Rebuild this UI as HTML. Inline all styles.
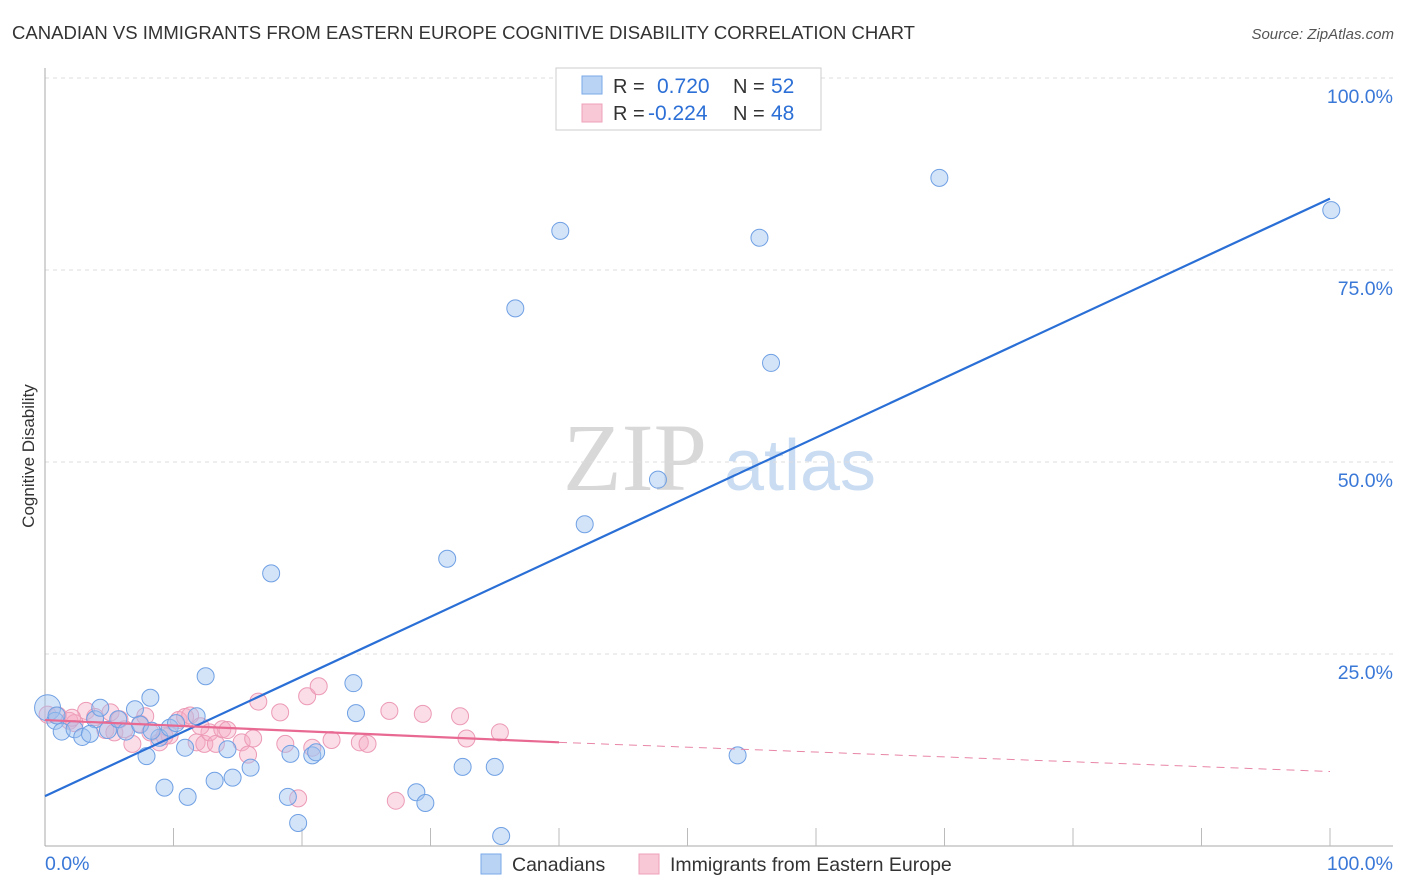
<!DOCTYPE html>
<html><head><meta charset="utf-8"><style>
body{margin:0;background:#fff;font-family:"Liberation Sans",sans-serif;}
svg{display:block}
</style></head><body>
<svg id="c" width="1406" height="892">
<text x="12" y="39" font-size="18" fill="#333" textLength="903" lengthAdjust="spacingAndGlyphs">CANADIAN VS IMMIGRANTS FROM EASTERN EUROPE COGNITIVE DISABILITY CORRELATION CHART</text>
<text x="1394" y="39" font-size="15" fill="#555" font-style="italic" text-anchor="end">Source: ZipAtlas.com</text>
<text x="34" y="456" font-size="17" fill="#333" text-anchor="middle" transform="rotate(-90 34 456)">Cognitive Disability</text>
<text x="635" y="490" font-size="96" fill="#d8d8d8" font-family="Liberation Serif" text-anchor="middle">ZIP</text>
<text x="800" y="490" font-size="72" fill="#c9dcf2" text-anchor="middle">atlas</text>
<g id="grid"></g><g id="pts"></g><g id="lines"></g>
<g>
<rect x="556" y="68" width="265" height="62" fill="#fff" stroke="#ccc"/>
<rect x="582" y="76" width="20" height="18" fill="#b9d3f5" stroke="#7aa8e8"/>
<rect x="582" y="104" width="20" height="18" fill="#f9c8d6" stroke="#eea0b8"/>
<text x="613" y="93" font-size="20" fill="#333">R =</text><text x="657" y="93" font-size="21" fill="#2c6fd6">0.720</text>
<text x="733" y="93" font-size="20" fill="#333">N =</text><text x="771" y="93" font-size="21" fill="#2c6fd6">52</text>
<text x="613" y="120" font-size="20" fill="#333">R =</text><text x="648" y="120" font-size="21" fill="#2c6fd6">-0.224</text>
<text x="733" y="120" font-size="20" fill="#333">N =</text><text x="771" y="120" font-size="21" fill="#2c6fd6">48</text>
</g>
<g>
<rect x="481" y="854" width="20" height="20" fill="#b9d3f5" stroke="#7aa8e8"/>
<text x="512" y="871" font-size="19.5" fill="#333">Canadians</text>
<rect x="639" y="854" width="20" height="20" fill="#f9c8d6" stroke="#eea0b8"/>
<text x="670" y="871" font-size="19.5" fill="#333">Immigrants from Eastern Europe</text>
</g>
<text x="45" y="870" font-size="19.5" fill="#3a78d8">0.0%</text>
<text x="1393" y="870" font-size="19.5" fill="#3a78d8" text-anchor="end">100.0%</text>
</svg>
<script>
const yTicks=[25,50,75,100];
const yTickLabels=["25.0%","50.0%","75.0%","100.0%"];
const blueX=[0.2,0.8,1.3,2.3,2.9,3.9,4.3,4.9,5.7,6.3,7.0,7.4,7.9,8.2,8.9,9.3,9.7,10.2,10.9,11.1,11.8,12.5,13.2,14.2,14.6,16.0,17.6,18.9,19.1,19.7,20.8,21.1,24.0,24.2,28.9,29.6,31.3,32.5,35.0,35.5,36.6,40.1,42.0,47.7,53.9,55.6,56.5,69.6,100.1,0.9,3.5,8.3];
const blueY=[18.0,16.3,14.9,15.2,14.2,16.5,18.0,15.1,16.5,14.9,17.8,15.8,11.7,19.3,14.1,7.6,15.4,16.0,12.8,6.4,16.9,22.1,8.5,12.6,8.9,10.2,35.5,6.4,12.0,3.0,11.8,12.2,21.2,17.3,7.0,5.6,37.4,10.3,10.3,1.3,70.0,80.1,41.9,47.7,11.8,79.2,62.9,87.0,82.8,17.0,14.6,15.0];
const pinkX=[0.2,1.0,1.9,2.3,3.2,3.9,4.7,5.4,6.2,6.8,7.4,8.2,8.9,9.7,10.4,10.9,11.3,11.8,12.4,12.8,13.3,13.8,14.2,15.3,15.8,16.2,16.6,18.3,18.7,19.7,20.4,20.8,21.3,22.3,24.5,25.1,26.8,27.3,29.4,32.3,32.8,35.4,2.1,5.1,9.3,5.8,7.8,12.1];
const pinkY=[17.1,17.0,16.3,16.0,17.6,16.8,15.1,14.8,15.2,13.3,15.9,14.8,13.5,14.4,16.4,16.8,17.0,13.5,13.3,14.8,13.3,15.2,15.1,13.5,11.9,14.0,18.8,17.4,13.3,6.2,19.5,12.8,20.8,13.8,13.5,13.3,17.6,5.9,17.2,16.9,14.0,14.8,16.7,17.4,14.3,16.5,16.9,15.6];
const blueLine=[0,6.5,100,84.3];
const pinkLine=[0,16.4,40,13.5,100,9.7];
const NS="http://www.w3.org/2000/svg";
const X=v=>45+v*12.85, Y=v=>846-v*7.68;
function mk(t,a,p){const e=document.createElementNS(NS,t);for(const k in a)e.setAttribute(k,a[k]);p.appendChild(e);return e;}
const grid=document.getElementById('grid');
yTicks.forEach((t,i)=>{
 const l=mk('line',{x1:45,x2:1393,y1:Y(t),y2:Y(t),stroke:'#ddd','stroke-dasharray':'4,4'},grid);
 
 
 const tx=mk('text',{x:1393,y:Y(t)+25,'font-size':19.5,fill:'#3a78d8','text-anchor':'end'},grid);
 tx.textContent=yTickLabels[i];
 
 
});
const ax=mk('line',{x1:45,x2:45,y1:68,y2:846,stroke:'#aaa'},grid);


const bx=mk('line',{x1:45,x2:1393,y1:846,y2:846,stroke:'#aaa'},grid);


for(let i=1;i<=10;i++){const t=mk('line',{x1:45+i*128.5,x2:45+i*128.5,y1:828,y2:846,stroke:'#bbb'},grid);
 
 }
const pts=document.getElementById('pts');
pinkX.forEach((x,i)=>{const c=mk('circle',{cx:X(x),cy:Y(pinkY[i]),r:8.5,fill:'rgba(246,170,195,0.4)',stroke:'#ec9ab5','stroke-width':1},pts);
 
 });
blueX.forEach((x,i)=>{const c=mk('circle',{cx:X(x),cy:Y(blueY[i]),r:i==0?13:8.5,fill:'rgba(160,195,240,0.45)',stroke:'#6fa0e4','stroke-width':1},pts);
 
 });
const lines=document.getElementById('lines');
const bl=mk('line',{x1:X(blueLine[0]),y1:Y(blueLine[1]),x2:X(blueLine[2]),y2:Y(blueLine[3]),stroke:'#2a6fd6','stroke-width':2.2},lines);


const pl=mk('line',{x1:X(pinkLine[0]),y1:Y(pinkLine[1]),x2:X(pinkLine[2]),y2:Y(pinkLine[3]),stroke:'#e86a93','stroke-width':2.2},lines);


const pd=mk('line',{x1:X(pinkLine[2]),y1:Y(pinkLine[3]),x2:X(pinkLine[4]),y2:Y(pinkLine[5]),stroke:'#e886a6','stroke-width':1,'stroke-dasharray':'8,6'},lines);


</script>
</body></html>
